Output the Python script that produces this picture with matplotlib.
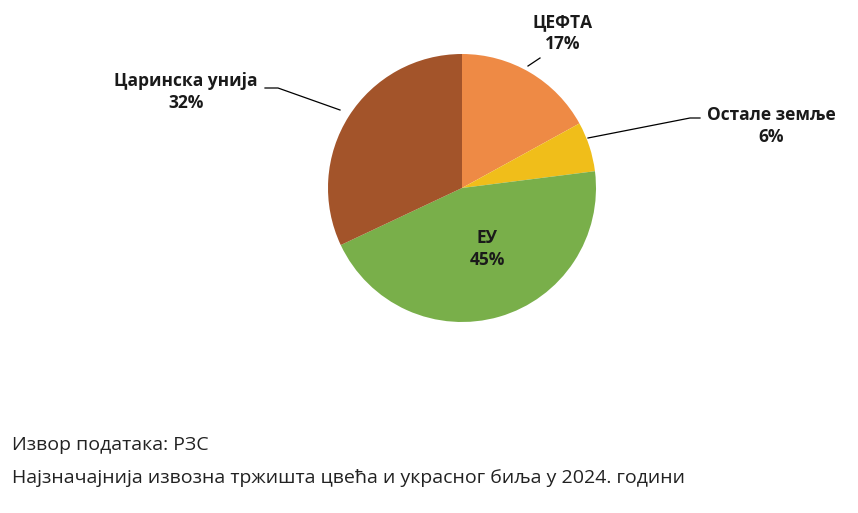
import matplotlib
matplotlib.use("Agg")
import matplotlib.pyplot as plt

categories = ["ЦЕФТА", "Остале земље", "ЕУ", "Царинска унија"]
values = [17, 6, 45, 32]
colors = ["#EE8A45", "#F0BE1A", "#79AF4A", "#A3542A"]
source_text = "Извор података: РЗС"
title_text = "Најзначајнија извозна тржишта цвећа и украсног биља у 2024. години"

plt.rcParams['font.family'] = ['Open Sans', 'DejaVu Sans']
W, H = 858, 513
fig = plt.figure(figsize=(W/100, H/100), dpi=100)

cx, cy, r = 462, 188, 134
axp = fig.add_axes([(cx-r)/W, 1-(cy+r)/H, 2*r/W, 2*r/H])
axp.pie(values, colors=colors, startangle=90, counterclock=False,
        radius=1, wedgeprops=dict(linewidth=0))
axp.set_xlim(-1, 1); axp.set_ylim(-1, 1)
axp.set_aspect('auto')

ov = fig.add_axes([0, 0, 1, 1])
ov.set_xlim(0, W); ov.set_ylim(H, 0); ov.axis('off')
kw = dict(fontsize=12.5, fontweight='bold', ha='center', va='center', color='#1a1a1a')
ov.text(563, 33, f"{categories[0]}\n{values[0]}%", linespacing=1.3, **kw)
ov.text(771, 126, f"{categories[1]}\n{values[1]}%", linespacing=1.3, **kw)
ov.text(487, 249, f"{categories[2]}\n{values[2]}%", linespacing=1.3, **kw)
ov.text(186, 92, f"{categories[3]}\n{values[3]}%", linespacing=1.3, **kw)
lk = dict(color='black', lw=0.9)
ov.plot([540, 528], [58, 66], **lk)
ov.plot([700, 690, 588], [118, 118, 138], **lk)
ov.plot([265, 278, 340], [88, 88, 110], **lk)
ov.text(12, 445, source_text, fontsize=14, ha='left', va='center', color='#222222')
ov.text(12, 478, title_text, fontsize=14, ha='left', va='center', color='#222222')
fig.savefig("out.png", dpi=100)
